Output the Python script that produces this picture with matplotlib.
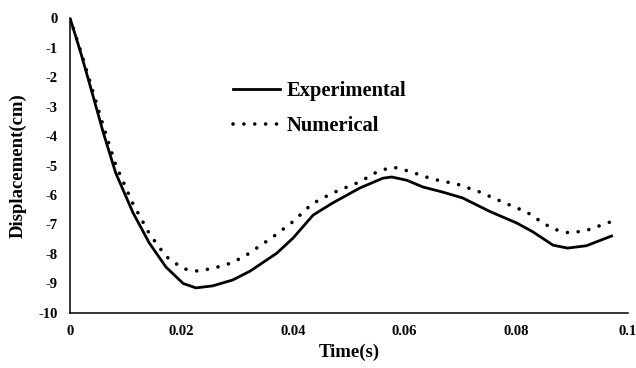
import matplotlib
matplotlib.use('Agg')
import matplotlib.pyplot as plt

# values
t_exp = [0, 0.001, 0.002, 0.0031, 0.0041, 0.006, 0.0082, 0.0113, 0.0142, 0.0172,
         0.0203, 0.0226, 0.0256, 0.0292, 0.0323, 0.0371, 0.040, 0.0436, 0.0471,
         0.052, 0.0561, 0.0577, 0.0604, 0.0633, 0.0668, 0.0704, 0.0753, 0.0801,
         0.083, 0.0866, 0.0892, 0.0926, 0.0971]
d_exp = [0, -0.6, -1.22, -1.95, -2.62, -3.9, -5.25, -6.6, -7.62, -8.44,
         -9.0, -9.15, -9.08, -8.88, -8.58, -7.97, -7.46, -6.68, -6.27,
         -5.76, -5.43, -5.39, -5.5, -5.73, -5.9, -6.1, -6.56, -6.95,
         -7.25, -7.7, -7.8, -7.72, -7.39]

t_num = [0, 0.001, 0.002, 0.0031, 0.0041, 0.006, 0.0082, 0.0113, 0.0142, 0.0172,
         0.0203, 0.0229, 0.0258, 0.029, 0.0317, 0.0364, 0.040, 0.0434, 0.0471,
         0.052, 0.0552, 0.0579, 0.0609, 0.065, 0.0694, 0.0735, 0.0776, 0.0819,
         0.0846, 0.0866, 0.0896, 0.0926, 0.0968]
d_num = [0, -0.58, -1.17, -1.85, -2.48, -3.68, -4.98, -6.3, -7.3, -8.08,
         -8.5, -8.58, -8.48, -8.3, -8.03, -7.42, -6.9, -6.3, -5.93,
         -5.55, -5.2, -5.05, -5.2, -5.46, -5.63, -5.9, -6.24, -6.58,
         -6.92, -7.15, -7.29, -7.2, -6.92]

xticks = [0, 0.02, 0.04, 0.06, 0.08, 0.1]
xlabels = ['0', '0.02', '0.04', '0.06', '0.08', '0.1']
yticks = list(range(-10, 1))

plt.rcParams['font.family'] = 'Liberation Serif'
plt.rcParams['font.weight'] = 'bold'

fig = plt.figure(figsize=(6.36, 3.68), dpi=100)
ax = fig.add_axes([0.110, 0.1495, 0.877, 0.8015])

ax.plot(t_exp, d_exp, color='black', linewidth=2.0, label='Experimental',
        solid_joinstyle='round')
ax.plot(t_num, d_num, color='black', linewidth=2.6, linestyle=(0, (0.01, 3.0)),
        dash_capstyle='round', label='Numerical')

ax.set_xlim(0, 0.1)
ax.set_ylim(-10, 0)
ax.set_xticks(xticks)
ax.set_xticklabels(xlabels)
ax.set_yticks(yticks)
ax.set_yticklabels([str(v) for v in yticks])
ax.tick_params(length=0, labelsize=10.5, pad=9)
for lab in ax.get_xticklabels() + ax.get_yticklabels():
    lab.set_fontweight('bold')

for s in ['top', 'right']:
    ax.spines[s].set_visible(False)
for s in ['left', 'bottom']:
    ax.spines[s].set_linewidth(1.1)

ax.set_xlabel('Time(s)', fontsize=13.5, fontweight='bold', labelpad=4)
ax.set_ylabel('Displacement(cm)', fontsize=13.5, fontweight='bold', labelpad=8)

ax.legend(loc='upper left', bbox_to_anchor=(0.259, 0.848), frameon=False,
          prop={'family': 'Liberation Serif', 'weight': 'bold', 'size': 14.8},
          handlelength=2.3, handletextpad=0.3, labelspacing=0.7)

plt.savefig('out.png', dpi=100)
